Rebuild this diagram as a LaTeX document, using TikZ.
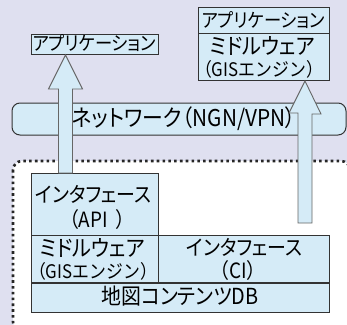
\documentclass[tikz,border=0pt]{standalone}
\usepackage{fontspec}
\setmainfont[RawFeature=+palt, FakeStretch=0.9]{Noto Sans CJK JP}
\newfontfamily\fwfont[FakeStretch=0.9]{Noto Sans CJK JP}
\usetikzlibrary{calc}
\definecolor{bgc}{HTML}{DFE0F0}
\definecolor{boxc}{HTML}{D5EBF7}
\definecolor{linec}{HTML}{333333}
\definecolor{arrc}{HTML}{666666}
\newcommand{\fsz}[1]{\fontsize{#1}{#1}\selectfont}
\tikzset{
  boxnode/.style={draw=linec, line width=1bp, fill=boxc, inner sep=0pt, anchor=north west},
  txt/.style={inner sep=0pt, font=\fsz{21.1}},
  ptxt/.style={inner sep=0pt, font=\fwfont\fsz{18.8}},
  blockarrow/.style={draw=arrc, line width=0.9bp, fill=boxc, line join=miter},
  zone/.style={draw=black!85, line width=2.6bp, dash pattern=on 2.6bp off 3.2bp, fill=white, rounded corners=9bp},
  netbox/.style={draw=linec, line width=1bp, fill=boxc, rounded corners=8bp}
}
\begin{document}
\begin{tikzpicture}[x=1bp,y=-1bp]
\useasboundingbox (0,0) rectangle (347,325);
\fill[bgc] (0,0) rectangle (347,325);
\begin{scope}
\clip (0,0) rectangle (347,325);
\draw[zone] (13,161) rectangle (350,331);
\draw[netbox] (12,103) rectangle (346,135);
\end{scope}
\node[txt, font=\fsz{23.2}] (netlabel) at (184,118.5) {ネットワーク（NGN/VPN）};

% boxes
\node[boxnode, minimum width=127bp, minimum height=20bp] (appL) at (31,34) {};
\node[boxnode, minimum width=131bp, minimum height=26bp] (appR) at (198,7) {};
\node[boxnode, minimum width=131bp, minimum height=47bp] (mwR) at (198,33) {};
\node[boxnode, minimum width=127bp, minimum height=62bp] (api) at (31,173) {};
\node[boxnode, minimum width=127bp, minimum height=47bp] (mwL) at (31,235) {};
\node[boxnode, minimum width=171bp, minimum height=47bp] (ci) at (158,235) {};
\node[boxnode, minimum width=298bp, minimum height=30bp] (db) at (31,282) {};
\draw[linec, line width=1.6bp] (mwL.south west) -- (ci.south east);

% texts
\node[txt, font=\fsz{19.3}] (appLt) at (94.5,43.5) {アプリケーション};
\node[txt, font=\fsz{19.3}] (appRt) at (263.5,20) {アプリケーション};
\node[txt, font=\fsz{22.5}] (mwRt1) at (262.5,45.5) {ミドルウェア};
\node[ptxt] (mwRt2) at (259,69.5) {（GISエンジン）};
\node[txt] (apit1) at (93.5,194) {インタフェース};
\node[ptxt, font=\fwfont\fsz{21.1}] (apit2) at (97.5,220) {（API\hspace{8bp}）};
\node[txt, font=\fsz{22.5}] (mwLt1) at (92.5,247.5) {ミドルウェア};
\node[ptxt] (mwLt2) at (93,271.5) {（GISエンジン）};
\node[txt] (cit1) at (244.5,247.5) {インタフェース};
\node[ptxt, font=\fwfont\fsz{21.1}] (cit2) at (238,270.5) {（CI）};
\node[txt, font=\fsz{22.2}] (dbt) at (180,296.5) {地図コンテンツDB};

% block arrows
\draw[blockarrow] (appL.south -| 65.5,0) coordinate (tipL)
  -- ++(17,34) -- ++(-10,0) |- (api.north -| 72.5,0) -- ++(-14,0) |- ($(tipL)+(-7,34)$) -- ++(-10,0) -- cycle;
\draw[blockarrow] (mwR.south -| 305,0) coordinate (tipR)
  -- ++(16,33) -- ++(-9,0) -- (312,223) -- (298,223) -- (298,113) -- ++(-9,0) -- cycle;
\end{tikzpicture}
\end{document}
